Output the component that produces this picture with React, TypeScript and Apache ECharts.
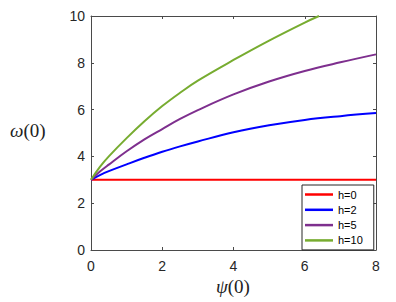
import React, { useEffect, useRef } from "react";
import * as echarts from "echarts";

// ψ(0) sample positions and ω(0) values
const xCommon = [0, 0.25, 0.5, 1, 1.5, 2, 2.5, 3, 4, 5, 6, 7, 8];
const h0Vals = [3, 3, 3, 3, 3, 3, 3, 3, 3, 3, 3, 3, 3];
const h2Vals = [3, 3.2, 3.37, 3.66, 3.94, 4.2, 4.43, 4.64, 5.03, 5.33, 5.56, 5.72, 5.85];
const h5Vals = [3, 3.35, 3.65, 4.22, 4.73, 5.17, 5.6, 5.98, 6.65, 7.2, 7.65, 8.02, 8.36];
const xH10 = [0, 0.25, 0.5, 1, 1.5, 2, 2.5, 3, 4, 5, 6, 6.4];
const h10Vals = [3, 3.55, 4.0, 4.78, 5.5, 6.15, 6.72, 7.24, 8.12, 8.95, 9.72, 10.0];

const seriesNames = ["h=0", "h=2", "h=5", "h=10"];
const seriesColors = ["#FF0000", "#0000FF", "#7E2F8E", "#77AC30"];
const xTicks = [0, 2, 4, 6, 8];
const yTicks = [0, 2, 4, 6, 8, 10];

const pairs = (xs: number[], ys: number[]) => xs.map((x, i) => [x, ys[i]]);

export default function App() {
  const ref = useRef<HTMLDivElement>(null);
  useEffect(() => {
    if (!ref.current) return;
    const chart = echarts.init(ref.current, null, { renderer: "svg" });
    const axisColor = "#4a4a4a";
    const labelColor = "#262626";
    const font = "Liberation Sans, Arial, sans-serif";
    const xBase = {
      type: "value" as const,
      min: xTicks[0],
      max: xTicks[xTicks.length - 1],
      interval: 2,
      axisLine: { show: true, onZero: false, lineStyle: { color: axisColor, width: 1 } },
      axisTick: { show: true, inside: true, length: 3, lineStyle: { color: axisColor } },
      splitLine: { show: false },
    };
    const yBase = {
      type: "value" as const,
      min: yTicks[0],
      max: yTicks[yTicks.length - 1],
      interval: 2,
      axisLine: { show: true, onZero: false, lineStyle: { color: axisColor, width: 1 } },
      axisTick: { show: true, inside: true, length: 3, lineStyle: { color: axisColor } },
      splitLine: { show: false },
    };
    const data = [
      pairs(xCommon, h0Vals),
      pairs(xCommon, h2Vals),
      pairs(xCommon, h5Vals),
      pairs(xH10, h10Vals),
    ];
    chart.setOption({
      animation: false,
      backgroundColor: "#ffffff",
      grid: { left: 91, right: 20, top: 16, bottom: 52 },
      xAxis: [
        {
          ...xBase,
          position: "bottom",
          axisLabel: { show: true, color: labelColor, fontSize: 14, fontFamily: font, margin: 9 },
        },
        { ...xBase, position: "top", axisLabel: { show: false } },
      ],
      yAxis: [
        {
          ...yBase,
          position: "left",
          axisLabel: { show: true, color: labelColor, fontSize: 14, fontFamily: font, margin: 6 },
        },
        { ...yBase, position: "right", axisLabel: { show: false } },
      ],
      legend: {
        orient: "vertical",
        left: 302,
        top: 185,
        data: seriesNames,
        icon: "rect",
        itemWidth: 28,
        itemHeight: 2.5,
        itemGap: 2.3,
        padding: [3, 11, 3, 3],
        borderColor: "#262626",
        borderWidth: 1,
        backgroundColor: "#ffffff",
        textStyle: { fontSize: 11, fontFamily: font, color: "#000", lineHeight: 13 },
      },
      graphic: [
        {
          type: "text",
          left: 10,
          top: 121,
          style: {
            text: "{i|ω}{n|(0)}",
            rich: {
              i: { fontFamily: "Liberation Serif, serif", fontStyle: "italic", fontSize: 19, fill: "#222" },
              n: { fontFamily: "Liberation Serif, serif", fontSize: 19, fill: "#222" },
            },
          },
        },
        {
          type: "text",
          left: 216,
          top: 277,
          style: {
            text: "{i|ψ}{n|(0)}",
            rich: {
              i: { fontFamily: "Liberation Serif, serif", fontStyle: "italic", fontSize: 19, fill: "#222" },
              n: { fontFamily: "Liberation Serif, serif", fontSize: 19, fill: "#222" },
            },
          },
        },
      ],
      series: seriesNames.map((name, i) => ({
        name,
        type: "line",
        xAxisIndex: 0,
        yAxisIndex: 0,
        data: data[i],
        showSymbol: false,
        smooth: 0.4,
        clip: true,
        color: seriesColors[i],
        lineStyle: { color: seriesColors[i], width: 2 },
        itemStyle: { color: seriesColors[i] },
      })),
    });
    return () => chart.dispose();
  }, []);
  return (
    <div
      ref={ref}
      style={{ position: "fixed", left: 0, top: 0, width: 396, height: 302 }}
    />
  );
}
